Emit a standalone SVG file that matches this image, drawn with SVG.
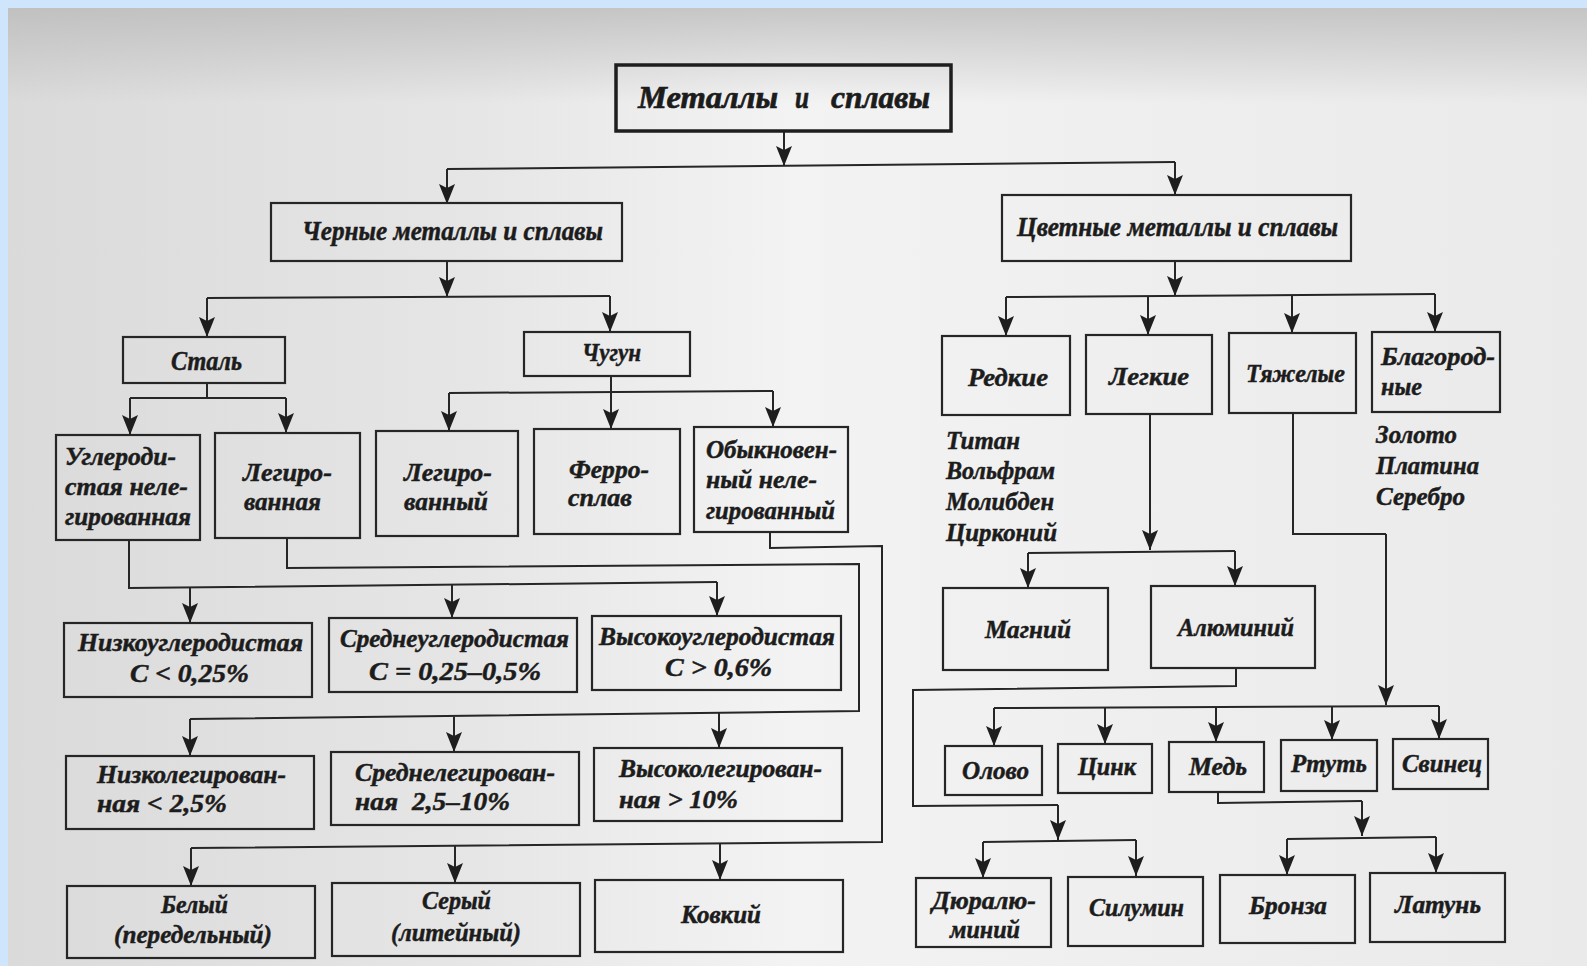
<svg xmlns="http://www.w3.org/2000/svg" width="1587" height="966" viewBox="0 0 1587 966">
<defs>
<linearGradient id="bgH" x1="0" y1="0" x2="1" y2="0">
<stop offset="0" stop-color="#dadada"/>
<stop offset="0.3" stop-color="#e6e6e6"/>
<stop offset="0.5" stop-color="#f3f3f3"/>
<stop offset="0.75" stop-color="#eeeeee"/>
<stop offset="1" stop-color="#eaeaea"/>
</linearGradient>
<linearGradient id="bgV" x1="0" y1="0" x2="0" y2="1">
<stop offset="0" stop-color="#b8b8b8" stop-opacity="0.75"/>
<stop offset="1" stop-color="#b8b8b8" stop-opacity="0"/>
</linearGradient>
<marker id="arr" viewBox="0 0 20 16" refX="20" refY="8" markerWidth="20" markerHeight="16" markerUnits="userSpaceOnUse" orient="auto">
<path d="M0,0 L20,8 L0,16 L4,8 z" fill="#1e1e1e"/>
</marker>
<style>
.box{fill:none;stroke:#262626;stroke-width:2.2}
.tbox{fill:none;stroke:#1e1e1e;stroke-width:3.5}
.t{font-family:"Liberation Serif","Times New Roman",serif;font-weight:bold;font-style:italic;font-size:26px;fill:#1c1c1c;stroke:#1c1c1c;stroke-width:0.5}
.big{font-size:32px;stroke-width:0.7}
.mid{font-size:27px}
.ln{fill:none;stroke:#262626;stroke-width:2}
.ar{fill:none;stroke:#262626;stroke-width:2;marker-end:url(#arr)}
</style>
</defs>
<rect x="0" y="0" width="1587" height="966" fill="url(#bgH)"/>
<rect x="0" y="8" width="1587" height="95" fill="url(#bgV)"/>
<rect x="0" y="0" width="1587" height="8" fill="#cfe5fb"/>
<rect x="0" y="0" width="8" height="966" fill="#cfe5fb"/>

<g id="connectors">
<path class="ar" d="M784,131 V166"/>
<path class="ln" d="M447,169 L1175,162"/>
<path class="ar" d="M447,169 V204"/>
<path class="ar" d="M1175,162 V195"/>
<path class="ar" d="M447,261 V297"/>
<path class="ln" d="M207,298 L610,296"/>
<path class="ar" d="M207,298 V337"/>
<path class="ar" d="M610,296 V332"/>
<path class="ln" d="M207,383 V398"/>
<path class="ln" d="M130,398 H286"/>
<path class="ar" d="M130,398 V435"/>
<path class="ar" d="M286,398 V433"/>
<path class="ln" d="M449,393 L773,391"/>
<path class="ar" d="M611,376 V429"/>
<path class="ar" d="M449,393 V431"/>
<path class="ar" d="M773,391 V427"/>
<path class="ln" d="M129,540 V588 L717,582"/>
<path class="ar" d="M190,587 V623"/>
<path class="ar" d="M452,584 V618"/>
<path class="ar" d="M717,582 V616"/>
<path class="ln" d="M287,538 V568 L859,564 V711 L190,719"/>
<path class="ar" d="M190,719 V756"/>
<path class="ar" d="M454,717 V752"/>
<path class="ar" d="M719,713 V748"/>
<path class="ln" d="M770,532 V548 L882,546 V842 L191,848"/>
<path class="ar" d="M191,848 V886"/>
<path class="ar" d="M455,846 V883"/>
<path class="ar" d="M720,844 V880"/>
<path class="ar" d="M1175,262 V296"/>
<path class="ln" d="M1006,297 L1435,294"/>
<path class="ar" d="M1006,297 V336"/>
<path class="ar" d="M1148,296 V335"/>
<path class="ar" d="M1292,295 V333"/>
<path class="ar" d="M1435,294 V332"/>
<path class="ar" d="M1150,414 V550"/>
<path class="ln" d="M1028,553 L1235,551"/>
<path class="ar" d="M1028,553 V588"/>
<path class="ar" d="M1235,551 V586"/>
<path class="ln" d="M1236,668 V686 L913,690 V806 L1058,805"/>
<path class="ar" d="M1058,805 V840"/>
<path class="ln" d="M983,842 L1136,840"/>
<path class="ar" d="M983,842 V878"/>
<path class="ar" d="M1136,840 V876"/>
<path class="ln" d="M1293,413 V534 H1386"/>
<path class="ar" d="M1386,534 V705"/>
<path class="ln" d="M994,708 L1439,706"/>
<path class="ar" d="M994,708 V746"/>
<path class="ar" d="M1105,708 V744"/>
<path class="ar" d="M1216,707 V742"/>
<path class="ar" d="M1332,707 V740"/>
<path class="ar" d="M1439,706 V739"/>
<path class="ln" d="M1218,792 V803 L1362,801"/>
<path class="ar" d="M1362,801 V836"/>
<path class="ln" d="M1287,839 L1436,837"/>
<path class="ar" d="M1287,839 V875"/>
<path class="ar" d="M1436,837 V873"/>
</g>

<g id="n-metals"><rect class="tbox" x="616" y="65" width="335" height="66"/>
<text class="t big" y="108"><tspan x="638" textLength="140" lengthAdjust="spacingAndGlyphs">Металлы</tspan><tspan x="795" textLength="14" lengthAdjust="spacingAndGlyphs">и</tspan><tspan x="831" textLength="99" lengthAdjust="spacingAndGlyphs">сплавы</tspan></text></g>
<g id="n-black"><rect class="box" x="271" y="203" width="351" height="58"/><text class="t mid" x="302" y="240" textLength="301" lengthAdjust="spacingAndGlyphs">Черные металлы и сплавы</text></g>
<g id="n-color"><rect class="box" x="1002" y="195" width="349" height="66"/><text class="t mid" x="1017" y="236" textLength="321" lengthAdjust="spacingAndGlyphs">Цветные металлы и сплавы</text></g>

<g id="n-steel"><rect class="box" x="123" y="337" width="162" height="46"/><text class="t mid" x="171" y="370" textLength="71" lengthAdjust="spacingAndGlyphs">Сталь</text></g>
<g id="n-iron"><rect class="box" x="524" y="332" width="166" height="44"/><text class="t" x="582" y="361" textLength="59" lengthAdjust="spacingAndGlyphs">Чугун</text></g>

<g id="n-carbon"><rect class="box" x="56" y="435" width="144" height="105"/>
<text class="t" x="65" y="465" textLength="111" lengthAdjust="spacingAndGlyphs">Углероди-</text>
<text class="t" x="65" y="495" textLength="123" lengthAdjust="spacingAndGlyphs">стая неле-</text>
<text class="t" x="65" y="525" textLength="126" lengthAdjust="spacingAndGlyphs">гированная</text></g>
<g id="n-alloyed-steel"><rect class="box" x="215" y="433" width="145" height="105"/>
<text class="t" x="243" y="481" textLength="89" lengthAdjust="spacingAndGlyphs">Легиро-</text>
<text class="t" x="244" y="510" textLength="77" lengthAdjust="spacingAndGlyphs">ванная</text></g>
<g id="n-alloyed-iron"><rect class="box" x="376" y="431" width="142" height="105"/>
<text class="t" x="404" y="481" textLength="88" lengthAdjust="spacingAndGlyphs">Легиро-</text>
<text class="t" x="404" y="510" textLength="84" lengthAdjust="spacingAndGlyphs">ванный</text></g>
<g id="n-ferro"><rect class="box" x="534" y="429" width="146" height="105"/>
<text class="t" x="569" y="478" textLength="80" lengthAdjust="spacingAndGlyphs">Ферро-</text>
<text class="t" x="568" y="506" textLength="64" lengthAdjust="spacingAndGlyphs">сплав</text></g>
<g id="n-ordinary"><rect class="box" x="694" y="427" width="154" height="105"/>
<text class="t" x="706" y="458" textLength="131" lengthAdjust="spacingAndGlyphs">Обыкновен-</text>
<text class="t" x="706" y="488" textLength="111" lengthAdjust="spacingAndGlyphs">ный неле-</text>
<text class="t" x="706" y="519" textLength="129" lengthAdjust="spacingAndGlyphs">гированный</text></g>

<g id="n-lowc"><rect class="box" x="64" y="623" width="248" height="74"/>
<text class="t" x="78" y="651" textLength="225" lengthAdjust="spacingAndGlyphs">Низкоуглеродистая</text>
<text class="t" x="130" y="682" textLength="119" lengthAdjust="spacingAndGlyphs">C &lt; 0,25%</text></g>
<g id="n-midc"><rect class="box" x="329" y="618" width="248" height="74"/>
<text class="t" x="340" y="647" textLength="229" lengthAdjust="spacingAndGlyphs">Среднеуглеродистая</text>
<text class="t" x="369" y="680" textLength="172" lengthAdjust="spacingAndGlyphs">C = 0,25–0,5%</text></g>
<g id="n-highc"><rect class="box" x="592" y="616" width="249" height="74"/>
<text class="t" x="599" y="645" textLength="236" lengthAdjust="spacingAndGlyphs">Высокоуглеродистая</text>
<text class="t" x="665" y="676" textLength="107" lengthAdjust="spacingAndGlyphs">C &gt; 0,6%</text></g>

<g id="n-lowa"><rect class="box" x="66" y="756" width="248" height="73"/>
<text class="t" x="97" y="783" textLength="189" lengthAdjust="spacingAndGlyphs">Низколегирован-</text>
<text class="t" x="97" y="812" textLength="130" lengthAdjust="spacingAndGlyphs">ная &lt; 2,5%</text></g>
<g id="n-mida"><rect class="box" x="331" y="752" width="248" height="73"/>
<text class="t" x="355" y="781" textLength="200" lengthAdjust="spacingAndGlyphs">Среднелегирован-</text>
<text class="t" y="810"><tspan x="355" textLength="43" lengthAdjust="spacingAndGlyphs">ная</tspan><tspan x="412" textLength="98" lengthAdjust="spacingAndGlyphs">2,5–10%</tspan></text></g>
<g id="n-higha"><rect class="box" x="594" y="748" width="248" height="73"/>
<text class="t" x="619" y="777" textLength="203" lengthAdjust="spacingAndGlyphs">Высоколегирован-</text>
<text class="t" x="619" y="808" textLength="119" lengthAdjust="spacingAndGlyphs">ная &gt; 10%</text></g>

<g id="n-white"><rect class="box" x="67" y="886" width="248" height="72"/>
<text class="t" x="161" y="913" textLength="67" lengthAdjust="spacingAndGlyphs">Белый</text>
<text class="t" x="114" y="943" textLength="158" lengthAdjust="spacingAndGlyphs">(передельный)</text></g>
<g id="n-gray"><rect class="box" x="332" y="883" width="248" height="73"/>
<text class="t" x="422" y="909" textLength="69" lengthAdjust="spacingAndGlyphs">Серый</text>
<text class="t" x="391" y="941" textLength="130" lengthAdjust="spacingAndGlyphs">(литейный)</text></g>
<g id="n-malleable"><rect class="box" x="595" y="880" width="248" height="72"/>
<text class="t" x="681" y="923" textLength="80" lengthAdjust="spacingAndGlyphs">Ковкий</text></g>

<g id="n-rare"><rect class="box" x="942" y="336" width="128" height="79"/>
<text class="t" x="968" y="386" textLength="80" lengthAdjust="spacingAndGlyphs">Редкие</text></g>
<g id="n-light"><rect class="box" x="1086" y="335" width="126" height="79"/>
<text class="t" x="1109" y="385" textLength="80" lengthAdjust="spacingAndGlyphs">Легкие</text></g>
<g id="n-heavy"><rect class="box" x="1229" y="333" width="127" height="80"/>
<text class="t" x="1246" y="382" textLength="99" lengthAdjust="spacingAndGlyphs">Тяжелые</text></g>
<g id="n-noble"><rect class="box" x="1372" y="332" width="128" height="80"/>
<text class="t" x="1381" y="365" textLength="114" lengthAdjust="spacingAndGlyphs">Благород-</text>
<text class="t" x="1381" y="395" textLength="41" lengthAdjust="spacingAndGlyphs">ные</text></g>

<g id="list-rare">
<text class="t" x="946" y="449" textLength="74" lengthAdjust="spacingAndGlyphs">Титан</text>
<text class="t" x="946" y="479" textLength="109" lengthAdjust="spacingAndGlyphs">Вольфрам</text>
<text class="t" x="946" y="510" textLength="108" lengthAdjust="spacingAndGlyphs">Молибден</text>
<text class="t" x="946" y="541" textLength="111" lengthAdjust="spacingAndGlyphs">Цирконий</text></g>
<g id="list-noble">
<text class="t" x="1376" y="443" textLength="81" lengthAdjust="spacingAndGlyphs">Золото</text>
<text class="t" x="1376" y="474" textLength="103" lengthAdjust="spacingAndGlyphs">Платина</text>
<text class="t" x="1376" y="505" textLength="89" lengthAdjust="spacingAndGlyphs">Серебро</text></g>

<g id="n-mg"><rect class="box" x="943" y="588" width="165" height="82"/>
<text class="t" x="985" y="638" textLength="86" lengthAdjust="spacingAndGlyphs">Магний</text></g>
<g id="n-al"><rect class="box" x="1151" y="586" width="164" height="82"/>
<text class="t" x="1178" y="636" textLength="116" lengthAdjust="spacingAndGlyphs">Алюминий</text></g>

<g id="n-sn"><rect class="box" x="945" y="746" width="97" height="49"/>
<text class="t" x="962" y="779" textLength="67" lengthAdjust="spacingAndGlyphs">Олово</text></g>
<g id="n-zn"><rect class="box" x="1058" y="744" width="94" height="49"/>
<text class="t" x="1078" y="775" textLength="58" lengthAdjust="spacingAndGlyphs">Цинк</text></g>
<g id="n-cu"><rect class="box" x="1169" y="742" width="95" height="50"/>
<text class="t" x="1189" y="775" textLength="58" lengthAdjust="spacingAndGlyphs">Медь</text></g>
<g id="n-hg"><rect class="box" x="1281" y="740" width="96" height="51"/>
<text class="t" x="1291" y="772" textLength="76" lengthAdjust="spacingAndGlyphs">Ртуть</text></g>
<g id="n-pb"><rect class="box" x="1393" y="739" width="95" height="50"/>
<text class="t" x="1402" y="772" textLength="80" lengthAdjust="spacingAndGlyphs">Свинец</text></g>

<g id="n-dural"><rect class="box" x="916" y="878" width="135" height="69"/>
<text class="t" x="932" y="909" textLength="104" lengthAdjust="spacingAndGlyphs">Дюралю-</text>
<text class="t" x="950" y="938" textLength="70" lengthAdjust="spacingAndGlyphs">миний</text></g>
<g id="n-silumin"><rect class="box" x="1068" y="877" width="135" height="69"/>
<text class="t" x="1089" y="916" textLength="95" lengthAdjust="spacingAndGlyphs">Силумин</text></g>
<g id="n-bronze"><rect class="box" x="1220" y="875" width="135" height="68"/>
<text class="t" x="1249" y="914" textLength="78" lengthAdjust="spacingAndGlyphs">Бронза</text></g>
<g id="n-brass"><rect class="box" x="1370" y="873" width="135" height="69"/>
<text class="t" x="1395" y="913" textLength="86" lengthAdjust="spacingAndGlyphs">Латунь</text></g>
</svg>
